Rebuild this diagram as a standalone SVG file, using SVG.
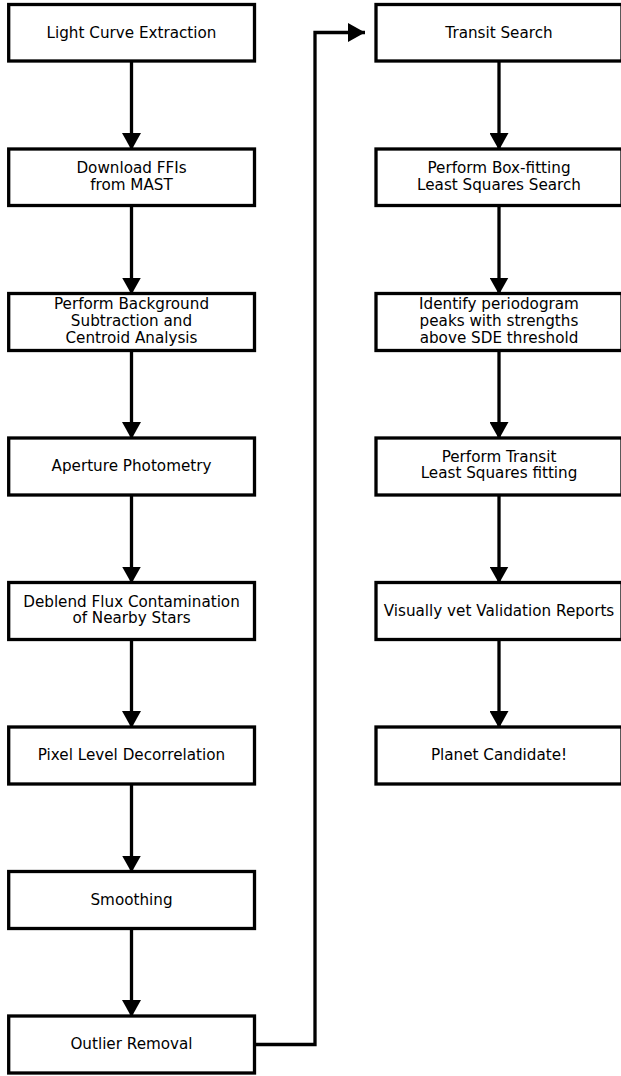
<svg xmlns="http://www.w3.org/2000/svg" width="621" height="1076" viewBox="0 0 621 1076">
<style>
.box{fill:#fff;stroke:#000;stroke-width:3.3}
.lbl{font-family:"DejaVu Sans",sans-serif;font-size:15.2px;fill:#000;text-anchor:middle}
.con{fill:none;stroke:#000;stroke-width:3.3}
</style>
<defs>
<marker id="ah" viewBox="0 0 17 19" refX="17" refY="9.5" markerWidth="17" markerHeight="19" markerUnits="userSpaceOnUse" orient="auto">
<path d="M0,0 L17,9.5 L0,19 z" fill="#000"/>
</marker>
</defs>
<rect width="621" height="1076" fill="#fff"/>
<g id="connectors">
<path class="con" marker-end="url(#ah)" d="M131.5,61 V150"/>
<path class="con" marker-end="url(#ah)" d="M131.5,206 V294.5"/>
<path class="con" marker-end="url(#ah)" d="M131.5,350.5 V439"/>
<path class="con" marker-end="url(#ah)" d="M131.5,495 V583.5"/>
<path class="con" marker-end="url(#ah)" d="M131.5,640 V728"/>
<path class="con" marker-end="url(#ah)" d="M131.5,784.5 V872.5"/>
<path class="con" marker-end="url(#ah)" d="M131.5,929 V1017"/>
<path class="con" marker-end="url(#ah)" d="M256,1044.5 H315 V32.5 H365"/>
<path class="con" marker-end="url(#ah)" d="M499,61 V150"/>
<path class="con" marker-end="url(#ah)" d="M499,206 V294.5"/>
<path class="con" marker-end="url(#ah)" d="M499,350.5 V439"/>
<path class="con" marker-end="url(#ah)" d="M499,495 V583.5"/>
<path class="con" marker-end="url(#ah)" d="M499,640 V728"/>
</g>
<g id="n1"><rect class="box" x="8.7" y="4.5" width="245.8" height="56.5"/><text class="lbl" x="131.5" y="37.5">Light Curve Extraction</text></g>
<g id="n2"><rect class="box" x="8.7" y="149" width="245.8" height="56.5"/><text class="lbl" x="131.5" y="173.3">Download FFIs</text><text class="lbl" x="131.5" y="190">from MAST</text></g>
<g id="n3"><rect class="box" x="8.7" y="293.5" width="245.8" height="57"/><text class="lbl" x="131.5" y="309.3">Perform Background</text><text class="lbl" x="131.5" y="326">Subtraction and</text><text class="lbl" x="131.5" y="342.7">Centroid Analysis</text></g>
<g id="n4"><rect class="box" x="8.7" y="438" width="245.8" height="57"/><text class="lbl" x="131.5" y="471">Aperture Photometry</text></g>
<g id="n5"><rect class="box" x="8.7" y="582.5" width="245.8" height="57"/><text class="lbl" x="131.5" y="606.5">Deblend Flux Contamination</text><text class="lbl" x="131.5" y="623.2">of Nearby Stars</text></g>
<g id="n6"><rect class="box" x="8.7" y="727" width="245.8" height="57"/><text class="lbl" x="131.5" y="760">Pixel Level Decorrelation</text></g>
<g id="n7"><rect class="box" x="8.7" y="871.5" width="245.8" height="57"/><text class="lbl" x="131.5" y="904.5">Smoothing</text></g>
<g id="n8"><rect class="box" x="8.7" y="1016" width="245.8" height="57"/><text class="lbl" x="131.5" y="1049">Outlier Removal</text></g>
<g id="n9"><rect class="box" x="376" y="4.5" width="246" height="56.5"/><text class="lbl" x="499" y="37.5">Transit Search</text></g>
<g id="n10"><rect class="box" x="376" y="149" width="246" height="56.5"/><text class="lbl" x="499" y="173.3">Perform Box-fitting</text><text class="lbl" x="499" y="190">Least Squares Search</text></g>
<g id="n11"><rect class="box" x="376" y="293.5" width="246" height="57"/><text class="lbl" x="499" y="309.3">Identify periodogram</text><text class="lbl" x="499" y="326">peaks with strengths</text><text class="lbl" x="499" y="342.7">above SDE threshold</text></g>
<g id="n12"><rect class="box" x="376" y="438" width="246" height="57"/><text class="lbl" x="499" y="461.7">Perform Transit</text><text class="lbl" x="499" y="478.4">Least Squares fitting</text></g>
<g id="n13"><rect class="box" x="376" y="582.5" width="246" height="57"/><text class="lbl" x="499" y="615.5">Visually vet Validation Reports</text></g>
<g id="n14"><rect class="box" x="376" y="727" width="246" height="57"/><text class="lbl" x="499" y="760">Planet Candidate!</text></g>
</svg>
